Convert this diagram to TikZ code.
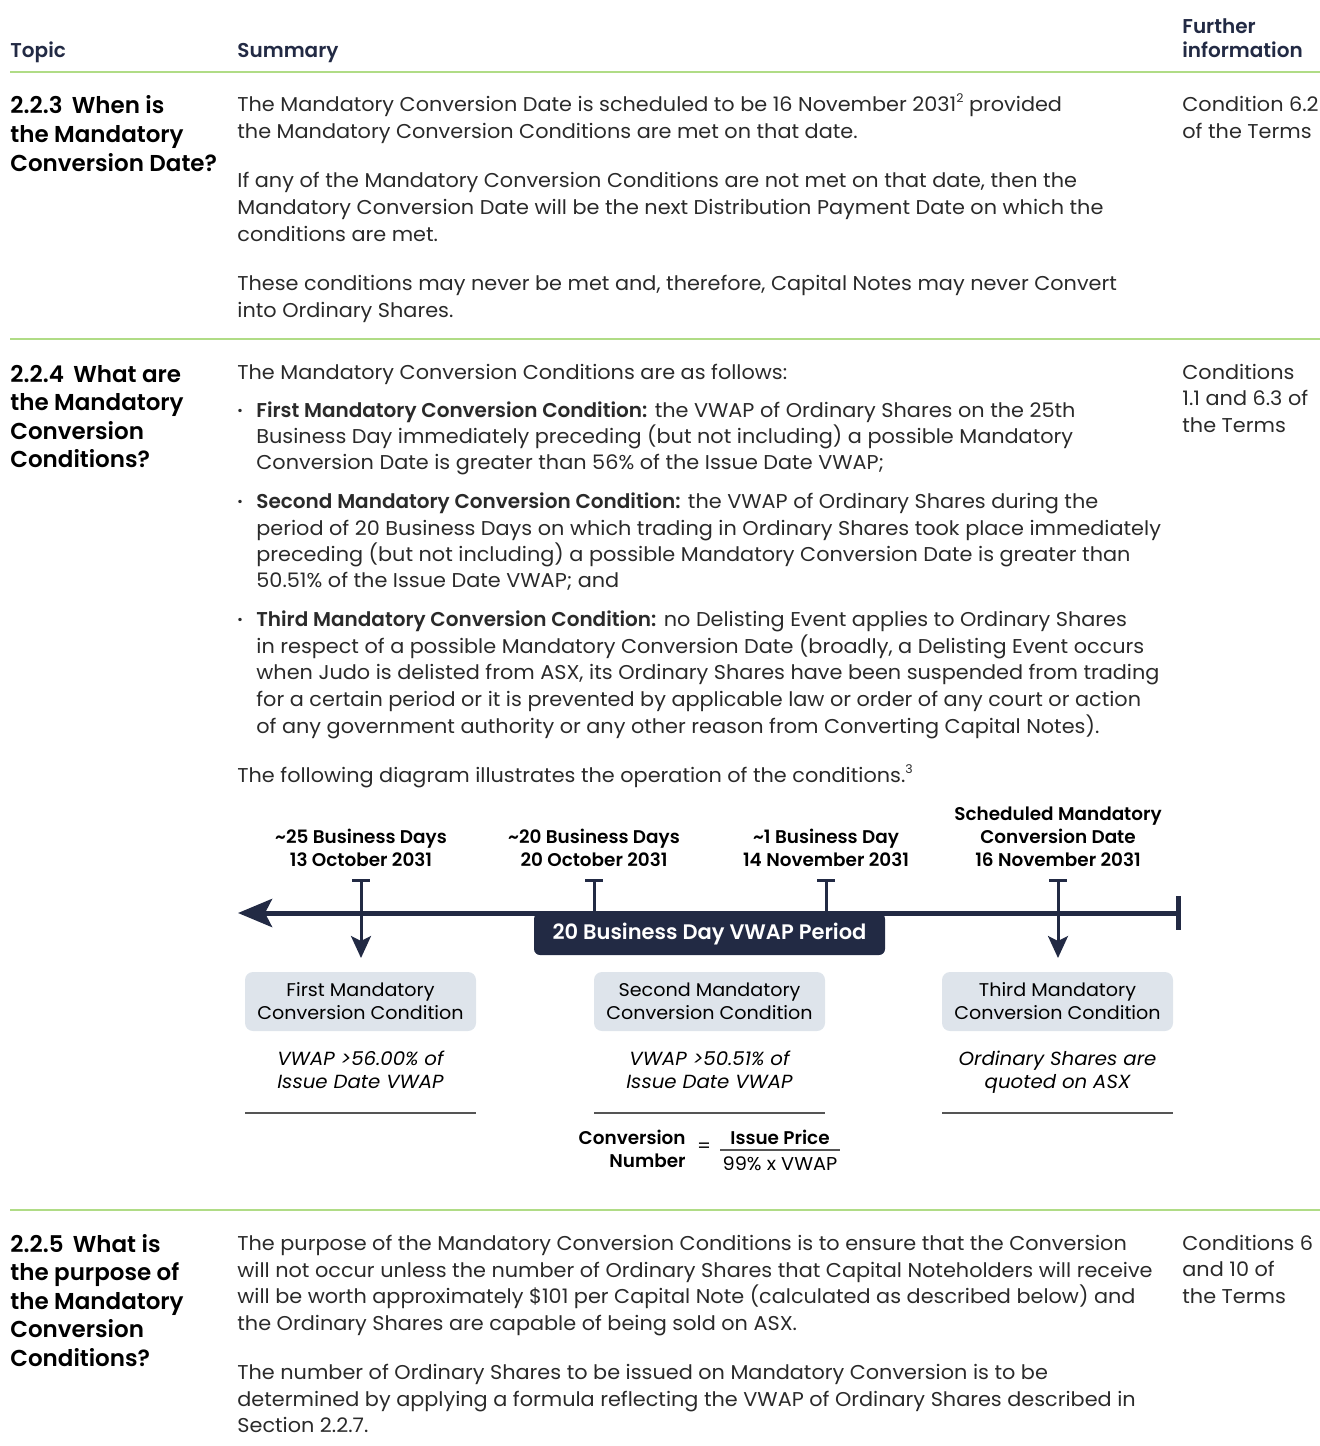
\documentclass[tikz,border=0pt]{standalone}
\usepackage{fontspec}
\setmainfont{Poppins}[BoldFont={Poppins SemiBold},UprightFeatures={FakeStretch=1.04},ItalicFeatures={FakeStretch=1.04}]
\usetikzlibrary{arrows.meta}
\definecolor{navy}{HTML}{222A44}
\definecolor{lime}{HTML}{B0DC86}
\definecolor{boxfill}{HTML}{DEE4EB}
\definecolor{bodyc}{HTML}{2A2A2A}
\definecolor{rulec}{HTML}{555555}
\newcommand{\supmark}[1]{\raisebox{0.75ex}{\fontsize{6}{6}\selectfont #1}}
\begin{document}
\begin{tikzpicture}[x=0.5pt,y=-0.5pt,
 body/.style={anchor=base west, inner sep=0pt, font=\fontsize{10}{12}\selectfont, text=bodyc},
 bul/.style={anchor=base west, inner sep=0pt, font=\fontsize{10}{12}\selectfont\bfseries, text=bodyc},
 topic/.style={anchor=base west, inner sep=0pt, font=\fontsize{11.5}{14}\selectfont\bfseries, text=black},
 head/.style={anchor=base west, inner sep=0pt, font=\fontsize{10}{12}\selectfont\bfseries, text=navy},
 sep/.style={draw=lime, line width=1pt},
 dlabel/.style={anchor=base, inner sep=0pt, font=\fontsize{9.2}{11}\selectfont\bfseries, text=black},
 condbox/.style={fill=boxfill, rounded corners=4pt, minimum width=115.5pt, minimum height=29.5pt, align=center, inner sep=0pt, font=\fontsize{9.2}{11.5}\selectfont, text=black},
 itl/.style={anchor=base, inner sep=0pt, font=\fontsize{9.5}{11}\selectfont\itshape, text=black},
 tick/.style={draw=navy, line width=1.5pt},
 tickarrow/.style={draw=navy, line width=1.5pt, -{Stealth[length=11pt,width=10pt,inset=2.5pt]}},
 thinrule/.style={draw=rulec, line width=0.6pt},
 fml/.style={inner sep=0pt, font=\fontsize{9.3}{11}\selectfont, text=black},
 fmlb/.style={inner sep=0pt, font=\fontsize{9.2}{11}\selectfont\bfseries, text=black}
]
\useasboundingbox (0,0) rectangle (1320,1446);

% header
\node[head] (hTopic) at (10,57) {Topic};
\node[head] (hSummary) at (237,57) {Summary};
\node[head] (hFurther1) at (1182,33) {Further};
\node[head] (hFurther2) at (1182,57) {information};
\draw[sep] (10,72) -- (1320,72);

% row 1
\node[topic] (t1a) at (10,113) {2.2.3\, When is};
\node[topic] (t1b) at (10,142) {the Mandatory};
\node[topic] (t1c) at (10,171) {Conversion Date?};
\node[body] (r1a) at (237,111) {The Mandatory Conversion Date is scheduled to be 16 November 2031\supmark{2} provided};
\node[body] (r1b) at (237,138) {the Mandatory Conversion Conditions are met on that date.};
\node[body] (r1c) at (237,187) {If any of the Mandatory Conversion Conditions are not met on that date, then the};
\node[body] (r1d) at (237,214) {Mandatory Conversion Date will be the next Distribution Payment Date on which the};
\node[body] (r1e) at (237,241) {conditions are met.};
\node[body] (r1f) at (237,290) {These conditions may never be met and, therefore, Capital Notes may never Convert};
\node[body] (r1g) at (237,317) {into Ordinary Shares.};
\node[body] (f1a) at (1182,111) {Condition 6.2};
\node[body] (f1b) at (1182,138) {of the Terms};
\draw[sep] (10,339) -- (1320,339);

% row 2
\node[topic] (t2a) at (10,382) {2.2.4\, What are};
\node[topic] (t2b) at (10,410.5) {the Mandatory};
\node[topic] (t2c) at (10,439) {Conversion};
\node[topic] (t2d) at (10,467.5) {Conditions?};
\node[body] (r2a) at (237,379) {The Mandatory Conversion Conditions are as follows:};
\node[bul] (b1) at (237,417) {·};
\node[body] (r2b) at (256,417) {\textbf{First Mandatory Conversion Condition:} the VWAP of Ordinary Shares on the 25th};
\node[body] (r2c) at (256,443) {Business Day immediately preceding (but not including) a possible Mandatory};
\node[body] (r2d) at (256,469) {Conversion Date is greater than 56\% of the Issue Date VWAP;};
\node[bul] (b2) at (237,508) {·};
\node[body] (r2e) at (256,508) {\textbf{Second Mandatory Conversion Condition:} the VWAP of Ordinary Shares during the};
\node[body] (r2f) at (256,535) {period of 20 Business Days on which trading in Ordinary Shares took place immediately};
\node[body] (r2g) at (256,561) {preceding (but not including) a possible Mandatory Conversion Date is greater than};
\node[body] (r2h) at (256,587) {50.51\% of the Issue Date VWAP; and};
\node[bul] (b3) at (237,626) {·};
\node[body] (r2i) at (256,626) {\textbf{Third Mandatory Conversion Condition:} no Delisting Event applies to Ordinary Shares};
\node[body] (r2j) at (256,653) {in respect of a possible Mandatory Conversion Date (broadly, a Delisting Event occurs};
\node[body] (r2k) at (256,679) {when Judo is delisted from ASX, its Ordinary Shares have been suspended from trading};
\node[body] (r2l) at (256,706) {for a certain period or it is prevented by applicable law or order of any court or action};
\node[body] (r2m) at (256,733) {of any government authority or any other reason from Converting Capital Notes).};
\node[body] (r2n) at (237,782) {The following diagram illustrates the operation of the conditions.\supmark{3}};
\node[body] (f2a) at (1182,379) {Conditions};
\node[body] (f2b) at (1182,405) {1.1 and 6.3 of};
\node[body] (f2c) at (1182,432) {the Terms};

% diagram labels
\node[dlabel] (l1a) at (361,843) {\textasciitilde25 Business Days};
\node[dlabel] (l1b) at (361,866) {13 October 2031};
\node[dlabel] (l2a) at (594,843) {\textasciitilde20 Business Days};
\node[dlabel] (l2b) at (594,866) {20 October 2031};
\node[dlabel] (l3a) at (826,843) {\textasciitilde1 Business Day};
\node[dlabel] (l3b) at (826,866) {14 November 2031};
\node[dlabel] (l4a) at (1058,820) {Scheduled Mandatory};
\node[dlabel] (l4b) at (1058,843) {Conversion Date};
\node[dlabel] (l4c) at (1058,866) {16 November 2031};

% timeline
\coordinate (tl) at (238,913);
\coordinate (tr) at (1178,913);
\draw[navy, line width=2.5pt, {Stealth[length=17pt,width=14pt,inset=3.5pt]}-] (tl) -- (tr);
\coordinate (trt) at (1178,896);
\coordinate (trb) at (1178,930);
\draw[navy, line width=2.5pt] (trt) -- (trb);

% ticks
\foreach \n/\x in {1/361,2/594,3/826,4/1058}{
  \coordinate (k\n t) at (\x,880);
  \coordinate (k\n l) at (\x-9,880);
  \coordinate (k\n r) at (\x+9,880);
  \coordinate (k\n m) at (\x,913);
  \draw[tick] (k\n l) -- (k\n r);
}
\coordinate (k1b) at (361,958);
\coordinate (k4b) at (1058,958);
\draw[tickarrow] (k1t) -- (k1b);
\draw[tick] (k2t) -- (k2m);
\draw[tick] (k3t) -- (k3m);
\draw[tickarrow] (k4t) -- (k4b);

% VWAP period box
\node[fill=navy, rounded corners=3pt, minimum width=175.5pt, minimum height=21pt, inner sep=0pt, text=white, font=\fontsize{10.5}{12}\selectfont\bfseries] (vwap) at (709.5,934) {20 Business Day VWAP Period};

% condition boxes
\node[condbox] (c1) at (360.5,1001.5) {First Mandatory\\Conversion Condition};
\node[condbox] (c2) at (709.5,1001.5) {Second Mandatory\\Conversion Condition};
\node[condbox] (c3) at (1057.5,1001.5) {Third Mandatory\\Conversion Condition};

\node[itl] (i1a) at (360.5,1065) {VWAP >56.00\% of};
\node[itl] (i1b) at (360.5,1088) {Issue Date VWAP};
\node[itl] (i2a) at (709.5,1065) {VWAP >50.51\% of};
\node[itl] (i2b) at (709.5,1088) {Issue Date VWAP};
\node[itl] (i3a) at (1057.5,1065) {Ordinary Shares are};
\node[itl] (i3b) at (1057.5,1088) {quoted on ASX};

\draw[thinrule] (245,1113) -- (476,1113);
\draw[thinrule] (594,1113) -- (825,1113);
\draw[thinrule] (942,1113) -- (1173,1113);

% formula
\node[fmlb, anchor=base east] (fc1) at (686,1144) {Conversion};
\node[fmlb, anchor=base east] (fc2) at (686,1167) {Number};
\node[fml, anchor=center] (feq) at (704,1148) {=};
\node[fmlb, anchor=base] (fn) at (780,1144) {Issue Price};
\node[fml, anchor=base] (fd) at (780,1170) {99\% x VWAP};
\draw[thinrule] (720,1150) -- (840,1150);

\draw[sep] (10,1210) -- (1320,1210);

% row 3
\node[topic] (t3a) at (10,1252) {2.2.5\, What is};
\node[topic] (t3b) at (10,1280.5) {the purpose of};
\node[topic] (t3c) at (10,1309) {the Mandatory};
\node[topic] (t3d) at (10,1337.5) {Conversion};
\node[topic] (t3e) at (10,1366) {Conditions?};
\node[body] (r3a) at (237,1250) {The purpose of the Mandatory Conversion Conditions is to ensure that the Conversion};
\node[body] (r3b) at (237,1277) {will not occur unless the number of Ordinary Shares that Capital Noteholders will receive};
\node[body] (r3c) at (237,1303) {will be worth approximately \$101 per Capital Note (calculated as described below) and};
\node[body] (r3d) at (237,1330) {the Ordinary Shares are capable of being sold on ASX.};
\node[body] (r3e) at (237,1379) {The number of Ordinary Shares to be issued on Mandatory Conversion is to be};
\node[body] (r3f) at (237,1406) {determined by applying a formula reflecting the VWAP of Ordinary Shares described in};
\node[body] (r3g) at (237,1432) {Section 2.2.7.};
\node[body] (f3a) at (1182,1250) {Conditions 6};
\node[body] (f3b) at (1182,1276) {and 10 of};
\node[body] (f3c) at (1182,1303) {the Terms};
\end{tikzpicture}
\end{document}
